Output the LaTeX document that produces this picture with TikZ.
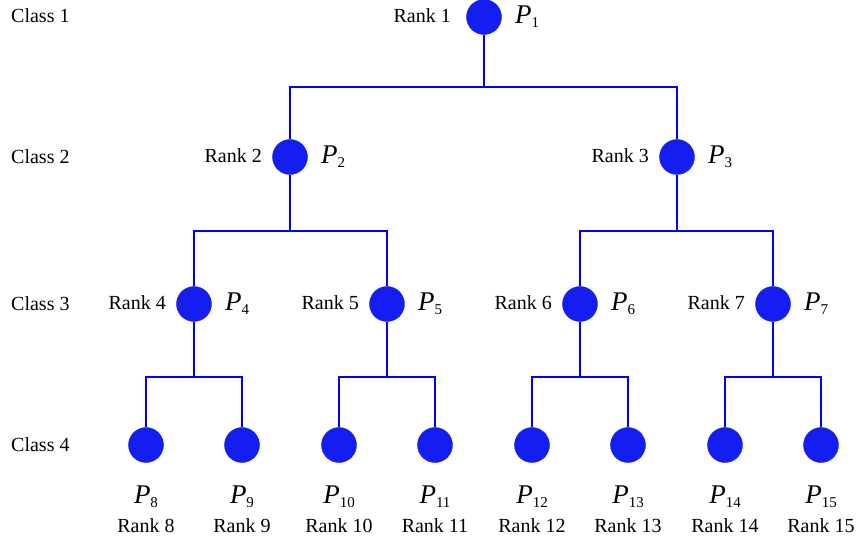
\documentclass[tikz,border=0pt]{standalone}
\usepackage{fontspec}
\setmainfont{Liberation Serif}
\definecolor{nodeblue}{RGB}{20,30,240}
\definecolor{lineblue}{RGB}{0,0,255}
\newcommand{\plab}[1]{{\fontsize{27}{30}\selectfont\itshape P}\raisebox{-4pt}{\fontsize{15}{16}\selectfont #1}}
\begin{document}
\begin{tikzpicture}[x=1pt,y=-1pt,
  proc/.style={circle,fill=nodeblue,draw=nodeblue,inner sep=0pt,minimum size=35pt},
  txt/.style={font=\fontsize{20}{24}\selectfont,inner sep=0pt},
  edge/.style={draw=lineblue,line width=1.1pt}]
\useasboundingbox (0,0) rectangle (864,542);
% class labels
\node[txt,anchor=base west] (c1) at (11,22) {Class 1};
\node[txt,anchor=base west] (c2) at (11,163) {Class 2};
\node[txt,anchor=base west] (c3) at (11,310) {Class 3};
\node[txt,anchor=base west] (c4) at (11,451) {Class 4};
% nodes
\node[proc] (P1) at (484,17) {};
\node[proc] (P2) at (290,157) {};
\node[proc] (P3) at (677,157) {};
\node[proc] (P4) at (194,304) {};
\node[proc] (P5) at (387,304) {};
\node[proc] (P6) at (580,304) {};
\node[proc] (P7) at (773,304) {};
\foreach \i/\x in {8/146,9/242,10/339,11/435,12/532,13/628,14/725,15/821}{
  \node[proc] (P\i) at (\x,445) {};
  \node[inner sep=0pt,anchor=base] (PL\i) at ([yshift=-58pt]P\i.center) {\plab{\i}};
  \node[txt,anchor=base] (RL\i) at ([yshift=-87pt]P\i.center) {Rank \i};
}
% upper labels
\node[txt,anchor=base east] (RL1) at ([xshift=-33pt,yshift=-5pt]P1.center) {Rank 1};
\foreach \i in {2,...,7}{
  \node[txt,anchor=base east] (RL\i) at ([xshift=-28pt,yshift=-5pt]P\i.center) {Rank \i};
}
\foreach \i in {1,...,7}{
  \node[inner sep=0pt,anchor=base west] (PL\i) at ([xshift=31pt,yshift=-6pt]P\i.center) {\plab{\i}};
}
% connectors
\draw[edge] (P1.south) -- (P1 |- 0,87);
\draw[edge] (P2.north) |- (P1 |- 0,87) -| (P3.north);
\draw[edge] (P2.south) -- (P2 |- 0,231);
\draw[edge] (P4.north) |- (P2 |- 0,231) -| (P5.north);
\draw[edge] (P3.south) -- (P3 |- 0,231);
\draw[edge] (P6.north) |- (P3 |- 0,231) -| (P7.north);
\draw[edge] (P4.south) -- (P4 |- 0,377);
\draw[edge] (P8.north) |- (P4 |- 0,377) -| (P9.north);
\draw[edge] (P5.south) -- (P5 |- 0,377);
\draw[edge] (P10.north) |- (P5 |- 0,377) -| (P11.north);
\draw[edge] (P6.south) -- (P6 |- 0,377);
\draw[edge] (P12.north) |- (P6 |- 0,377) -| (P13.north);
\draw[edge] (P7.south) -- (P7 |- 0,377);
\draw[edge] (P14.north) |- (P7 |- 0,377) -| (P15.north);
\end{tikzpicture}
\end{document}
